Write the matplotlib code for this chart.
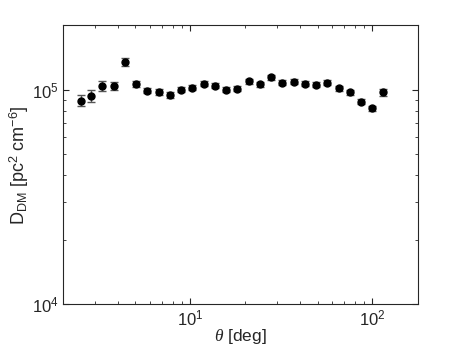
import matplotlib
matplotlib.use("Agg")
import matplotlib.pyplot as plt
import numpy as np

plt.rcParams['font.family'] = ['Liberation Sans', 'DejaVu Sans']
plt.rcParams['mathtext.fontset'] = 'custom'
plt.rcParams['mathtext.rm'] = 'Liberation Sans'
plt.rcParams['mathtext.it'] = 'Liberation Serif:italic'

# angular bins [deg]
theta = [2.50, 2.85, 3.29, 3.79, 4.37, 5.04, 5.81, 6.70, 7.72, 8.90,
         10.26, 11.83, 13.63, 15.72, 18.12, 20.89, 24.08, 27.76, 32.00, 36.89,
         42.53, 49.03, 56.52, 65.16, 75.12, 86.60, 99.83, 113.8]
# structure function values [pc^2 cm^-6]
dm = [0.891e5, 0.940e5, 1.044e5, 1.044e5, 1.347e5, 1.063e5, 0.992e5, 0.979e5, 0.948e5, 1.003e5,
      1.025e5, 1.070e5, 1.044e5, 1.000e5, 1.011e5, 1.098e5, 1.063e5, 1.146e5, 1.082e5, 1.090e5,
      1.070e5, 1.055e5, 1.082e5, 1.018e5, 0.976e5, 0.879e5, 0.821e5, 0.976e5]
dm_err = [5400, 5900, 5200, 4600, 5500, 3500, 2800, 2800, 2700, 2800,
          2800, 2900, 2800, 2700, 2700, 2900, 2800, 3000, 2900, 2900,
          2900, 2800, 2900, 2700, 2600, 2400, 2300, 3500]

fig = plt.figure(figsize=(4.63, 3.48), dpi=100)
ax = fig.add_axes([0.136, 0.126, 0.767, 0.801])

ax.errorbar(theta, dm, yerr=dm_err, fmt='o', color='black', markersize=5,
            ecolor='#555555', elinewidth=1, capsize=3, capthick=1)

ax.set_xscale('log')
ax.set_yscale('log')
ax.set_xlim(2, 178)
ax.set_ylim(1e4, 2e5)

for s in ax.spines.values():
    s.set_color('#262626')
    s.set_linewidth(0.8)
ax.tick_params(which='both', direction='in', top=True, right=True,
               colors='#262626', labelsize=12, pad=3)
ax.tick_params(which='major', length=4)
ax.tick_params(which='minor', length=2.5)
ax.yaxis.set_minor_formatter(matplotlib.ticker.NullFormatter())

ax.set_xlabel(r'$\it{\theta}$ [deg]', fontsize=12.5, color='#262626', labelpad=-1)
ax.set_ylabel(r'D$_{\rm DM}$ [pc$^2$ cm$^{-6}$]', fontsize=13, color='#262626', labelpad=1)

fig.savefig('out.png', dpi=100)
